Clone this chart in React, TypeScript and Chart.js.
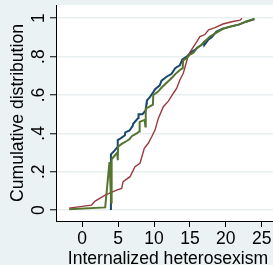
import React, { useEffect, useRef } from 'react';
import { Chart, registerables } from 'chart.js';

Chart.register(...registerables);

const xTicks = [0, 5, 10, 15, 20, 25];
const yTicks = [0, 0.2, 0.4, 0.6, 0.8, 1];
const yTickLabels = ['0', '.2', '.4', '.6', '.8', '1'];

const blueX = [4.0, 4.0, 4.5, 4.95, 4.95, 5.4, 5.95, 6.0, 6.6, 7.05, 7.1, 7.8, 7.85, 8.4, 8.85, 8.95, 9.0, 9.45, 9.9, 10.15, 10.8, 11.05, 11.75, 12.45, 12.95, 13.6, 13.95, 14.55, 15.25, 15.7, 16.15, 16.6, 16.95, 17.0, 17.6, 18.0, 18.7, 19.6, 20.5, 21.9, 22.8, 24.0];
const blueY = [0.0, 0.29, 0.31, 0.33, 0.365, 0.375, 0.39, 0.405, 0.415, 0.44, 0.45, 0.48, 0.5, 0.5, 0.52, 0.555, 0.57, 0.59, 0.615, 0.63, 0.65, 0.675, 0.695, 0.71, 0.74, 0.755, 0.785, 0.8, 0.825, 0.835, 0.85, 0.86, 0.875, 0.86, 0.89, 0.9, 0.93, 0.946, 0.955, 0.968, 0.982, 0.996];

const redX = [-1.85, 1.3, 1.8, 3.2, 3.9, 4.8, 5.5, 5.7, 6.66, 7.35, 8.05, 8.65, 9.2, 9.68, 10.14, 10.6, 11.3, 12.0, 12.7, 13.17, 13.6, 14.08, 14.4, 14.8, 15.35, 15.97, 16.4, 17.1, 17.6, 18.5, 19.6, 21.0, 22.0, 22.25];
const redY = [0.01, 0.026, 0.047, 0.078, 0.09, 0.104, 0.113, 0.148, 0.174, 0.226, 0.244, 0.322, 0.348, 0.382, 0.417, 0.478, 0.539, 0.568, 0.609, 0.635, 0.678, 0.713, 0.756, 0.809, 0.843, 0.878, 0.904, 0.915, 0.939, 0.951, 0.97, 0.983, 0.99, 1.0];

const greenX = [-1.8, 3.2, 3.8, 4.05, 4.1, 4.9, 4.95, 5.0, 5.5, 6.2, 6.6, 6.9, 7.6, 7.95, 8.0, 8.7, 8.8, 8.85, 9.2, 9.85, 9.9, 10.5, 11.1, 11.8, 12.5, 13.0, 13.6, 14.0, 14.05, 14.5, 15.0, 15.5, 16.0, 16.6, 17.1, 17.8, 18.7, 19.6, 20.5, 21.9, 22.8, 24.0];
const greenY = [0.004, 0.014, 0.25, 0.04, 0.265, 0.3, 0.26, 0.33, 0.345, 0.36, 0.37, 0.385, 0.4, 0.41, 0.46, 0.47, 0.435, 0.53, 0.535, 0.55, 0.6, 0.615, 0.64, 0.665, 0.69, 0.71, 0.73, 0.74, 0.78, 0.79, 0.81, 0.82, 0.845, 0.86, 0.88, 0.905, 0.925, 0.945, 0.955, 0.968, 0.982, 0.996];

const toPoints = (xs: number[], ys: number[]) => xs.map((x, i) => ({ x, y: ys[i] }));

const FONT = "'Liberation Sans', Arial, sans-serif";

const bgPlugin = {
  id: 'bgPlugin',
  beforeDraw(chart: any) {
    const { ctx, chartArea: a, width, height } = chart;
    ctx.save();
    ctx.fillStyle = '#eaf2f3';
    ctx.fillRect(0, 0, width, height);
    ctx.fillStyle = '#ffffff';
    ctx.fillRect(a.left, a.top, a.right - a.left, a.bottom - a.top);
    ctx.restore();
  },
};

export default function App() {
  const ref = useRef<HTMLCanvasElement | null>(null);
  useEffect(() => {
    document.body.style.overflow = 'hidden';
    const chart = new Chart(ref.current as HTMLCanvasElement, {
      type: 'line',
      data: {
        datasets: [
          { label: 'green', data: toPoints(greenX, greenY), borderColor: '#55752f', borderWidth: 2, pointRadius: 0, tension: 0, fill: false },
          { label: 'red', data: toPoints(redX, redY), borderColor: '#9a3a40', borderWidth: 1.4, pointRadius: 0, tension: 0, fill: false },
          { label: 'blue', data: toPoints(blueX, blueY), borderColor: '#1a476f', borderWidth: 2, pointRadius: 0, tension: 0, fill: false },
        ],
      },
      options: {
        animation: false,
        responsive: true,
        maintainAspectRatio: false,
        layout: { padding: { top: 5, left: 0, right: 0, bottom: 0 } },
        plugins: { legend: { display: false }, tooltip: { enabled: false } },
        scales: {
          x: {
            type: 'linear',
            min: -3.65,
            max: 27.55,
            afterFit: (s: any) => { s.height = 49; s.paddingLeft = 0; s.paddingRight = 0; },
            afterBuildTicks: (s: any) => { s.ticks = xTicks.map((v) => ({ value: v })); },
            grid: { drawOnChartArea: false, drawTicks: true, tickLength: 6, tickColor: '#000', tickWidth: 1 },
            border: { display: true, color: '#000', width: 1 },
            ticks: { color: '#000', font: { family: FONT, size: 17.5 }, padding: 2, maxRotation: 0, minRotation: 0 },
            title: { display: true, text: 'Internalized heterosexism', color: '#000', font: { family: FONT, size: 17.6, lineHeight: 1 }, padding: { top: 0, bottom: 2 } },
          },
          y: {
            type: 'linear',
            min: -0.057,
            max: 1.069,
            afterFit: (s: any) => { s.width = 56; s.paddingTop = 0; s.paddingBottom = 0; },
            afterBuildTicks: (s: any) => { s.ticks = yTicks.map((v) => ({ value: v })); },
            grid: { drawOnChartArea: true, color: '#e8eff1', lineWidth: 1.5, drawTicks: true, tickLength: 6, tickColor: '#000', tickWidth: 1 },
            border: { display: true, color: '#000', width: 1 },
            ticks: {
              color: '#000',
              font: { family: FONT, size: 17.5 },
              padding: 4,
              minRotation: 90,
              maxRotation: 90,
              crossAlign: 'center',
              callback: (v: any) => { const i = yTicks.indexOf(Number(v)); return i >= 0 ? yTickLabels[i] : ''; },
            },
            title: { display: true, text: 'Cumulative distribution', color: '#000', font: { family: FONT, size: 17.6 }, padding: { top: 7.5, bottom: 0 } },
          },
        },
      },
      plugins: [bgPlugin],
    } as any);
    return () => chart.destroy();
  }, []);
  return (
    <div style={{ position: 'fixed', left: 0, top: 0, width: 280, height: 270 }}>
      <canvas ref={ref} />
    </div>
  );
}
